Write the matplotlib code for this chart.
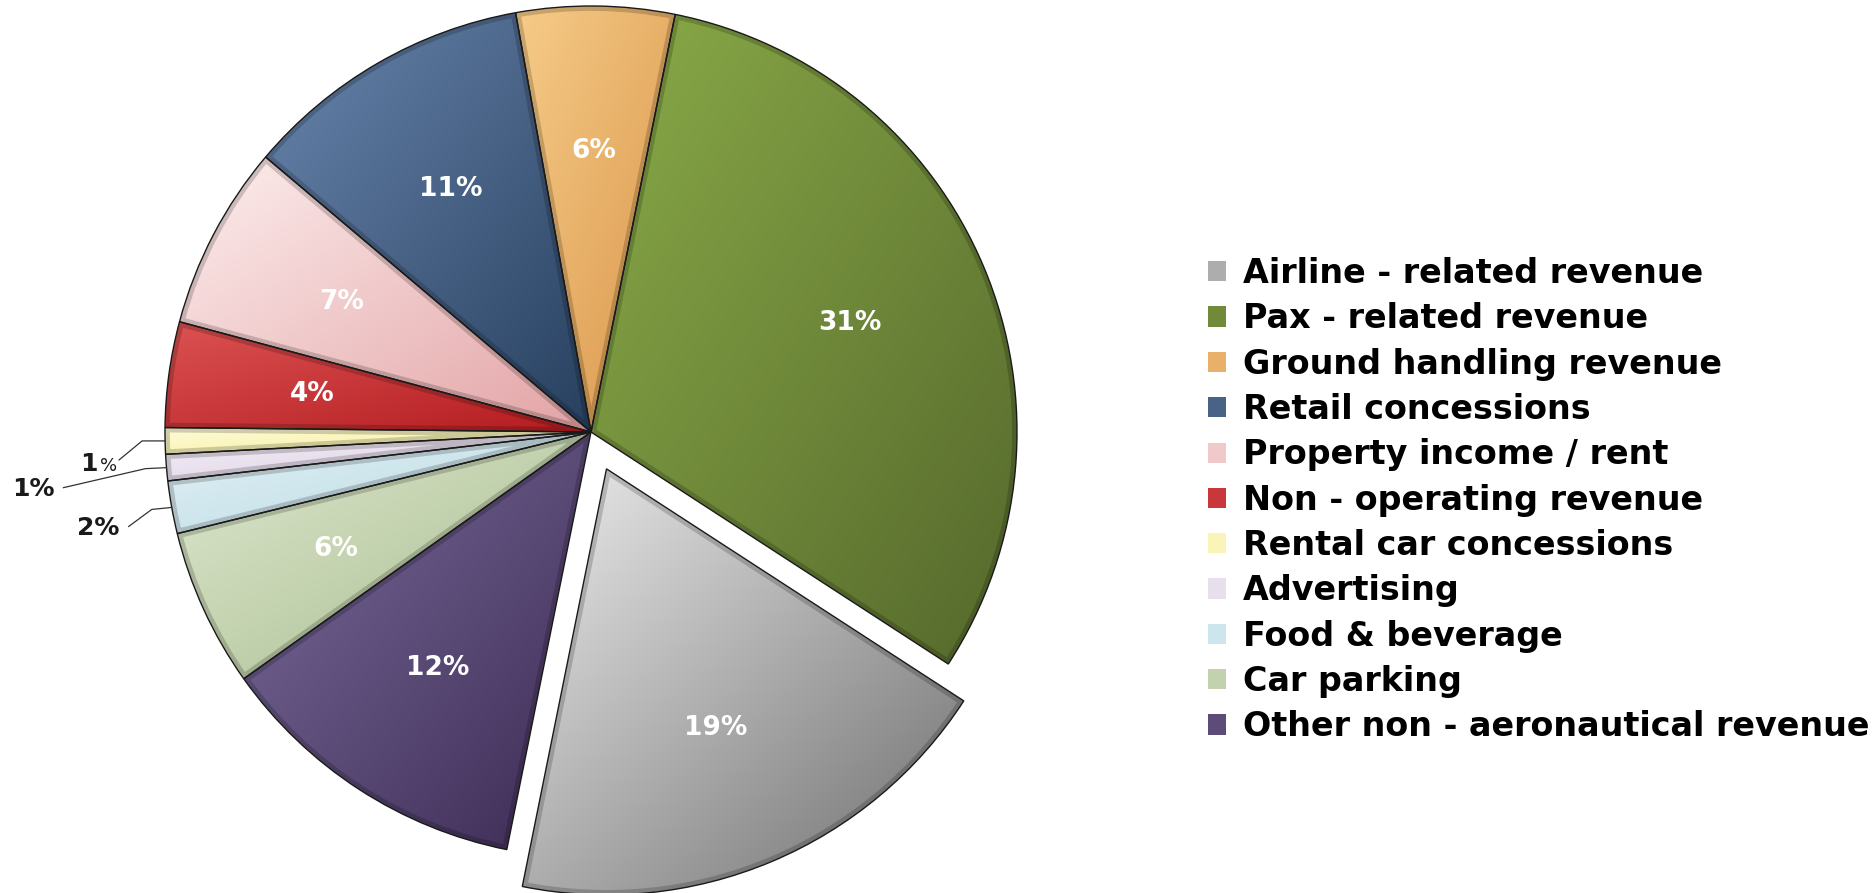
import numpy as np
import matplotlib
matplotlib.use("Agg")
import matplotlib.pyplot as plt
from matplotlib.patches import Patch, Wedge
from matplotlib.colors import to_rgb

categories = ["Airline - related revenue", "Pax - related revenue", "Ground handling revenue",
              "Retail concessions", "Property income / rent", "Non - operating revenue",
              "Rental car concessions", "Advertising", "Food & beverage", "Car parking",
              "Other non - aeronautical revenue"]
shares = [19, 31, 6, 11, 7, 4, 1, 1, 2, 6, 12]
# light (top-left) and dark (bottom-right) end of each slice gradient
light = ["#ececec", "#8aab48", "#f6cc88", "#6a86ae", "#fdeeee", "#dc5252",
         "#fffbd8", "#f4eef6", "#e4f2f6", "#dfe8d0", "#7d6d9e"]
dark = ["#6e6e6e", "#55682c", "#d9944a", "#27405f", "#e3a3a5", "#b31b1f",
        "#f5ee98", "#dccfe4", "#b5d8e2", "#a6bb8c", "#3a2a52"]
explode = [40, 0, 0, 0, 0, 0, 0, 0, 0, 0, 0]  # pixels, pie uses data units

W, H = 1875, 893
fig = plt.figure(figsize=(W / 100, H / 100), dpi=100)
ax = fig.add_axes([0, 0, 1, 1])

cx, cy, R = 591, H - 432, 426
mid = [tuple((np.array(to_rgb(a)) + np.array(to_rgb(b))) / 2) for a, b in zip(light, dark)]

wedges, texts, autotexts = ax.pie(
    shares, colors=mid, explode=explode, startangle=-101.4, counterclock=True,
    center=(cx, cy), radius=R, pctdistance=0.66,
    autopct=lambda p: "%d%%" % round(p) if p >= 3 else "",
    wedgeprops=dict(edgecolor="#1a1a1a", linewidth=1.0),
    textprops=dict(color="white", fontsize=19, fontweight="bold"))

# gradient fill clipped to each wedge
n = 200
u, v = np.meshgrid(np.linspace(0, 1, n), np.linspace(0, 1, n))
t = (u + (1 - v)) / 2
for w, lc, dc in zip(wedges, light, dark):
    ext = w.get_path().get_extents()
    l = np.array(to_rgb(lc)); d = np.array(to_rgb(dc))
    img = l[None, None, :] * (1 - t[..., None]) + d[None, None, :] * t[..., None]
    im = ax.imshow(img, extent=(ext.x0, ext.x1, ext.y0, ext.y1), origin="lower",
                   zorder=1, interpolation="bilinear")
    im.set_clip_path(w)
    # soft inner shadow along the wedge border
    sh = Wedge(w.center, w.r, w.theta1, w.theta2, facecolor="none",
               edgecolor="black", linewidth=7, alpha=0.18, zorder=1.5)
    ax.add_patch(sh)
    sh.set_clip_path(w)
    w.set_facecolor("none")
    w.set_zorder(2)
for at in autotexts:
    at.set_zorder(3)

# small slices: labels outside with leader lines
small = {6: [(-23, 0), (-46, -19), (-71, -23)],
         7: [(-21, -1), (-103, -20), (-133, -21)],
         8: [(-20, -2), (-43, -19), (-74, -21)]}
for i, (elbow, end, txt) in small.items():
    w = wedges[i]
    ang = np.deg2rad((w.theta1 + w.theta2) / 2)
    x0, y0 = cx + R * np.cos(ang), cy + R * np.sin(ang)
    ax.plot([x0, x0 + elbow[0], x0 + end[0]], [y0, y0 + elbow[1], y0 + end[1]],
            color="#333333", lw=0.9, zorder=3)
    if i == 6:
        ax.text(x0 + txt[0] + 4, y0 + txt[1], "1", ha="right", va="center",
                fontsize=18, fontweight="bold", color="#1a1a1a")
        ax.text(x0 + txt[0] + 6, y0 + txt[1] - 2, "%", ha="left", va="center",
                fontsize=13, color="#1a1a1a")
    else:
        ax.text(x0 + txt[0], y0 + txt[1], "%d%%" % shares[i], ha="center", va="center",
                fontsize=18, fontweight="bold", color="#1a1a1a")

handles = [Patch(facecolor=c, edgecolor="none") for c in mid]
fig.legend(handles, categories, loc="upper left",
           bbox_to_anchor=(1208 / W, 1 - 257 / H), frameon=False,
           prop=dict(size=24, weight="bold"), handlelength=0.55, handleheight=0.55,
           handletextpad=0.5, labelspacing=0.37, borderpad=0, borderaxespad=0)

ax.set_xlim(0, W)
ax.set_ylim(0, H)
ax.set_aspect("auto")
ax.axis("off")
fig.savefig("out.png", dpi=100)
